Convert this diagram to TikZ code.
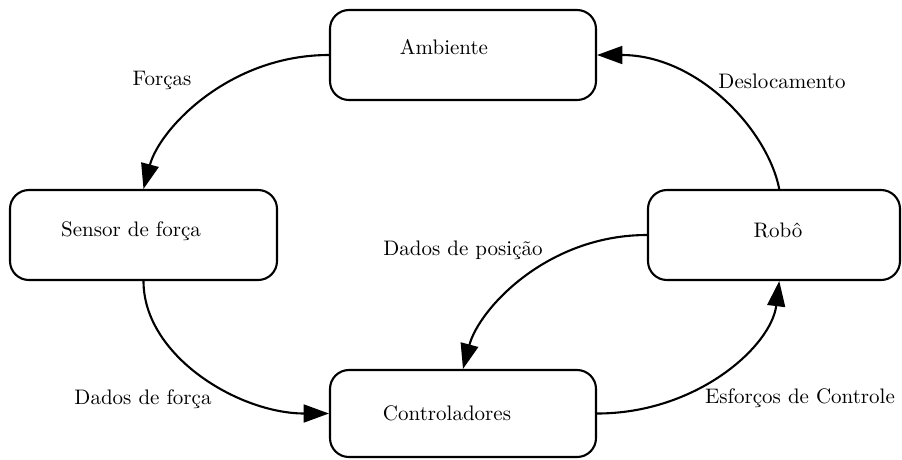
\documentclass[tikz,border=0pt]{standalone}
\usetikzlibrary{arrows.meta,fit}
\begin{document}
\begin{tikzpicture}[x=0.476pt,y=-0.476pt]
\tikzset{
  box/.style={draw, line width=1pt, rounded corners=9pt, inner sep=0pt},
  txt/.style={inner sep=0pt},
  flow/.style={line width=1pt, -{Triangle[length=12pt,width=8.5pt]}},
}
\useasboundingbox (0,0) rectangle (902,459);
% boxes
\node[box, fit={(330,10) (596,100)}] (amb) {};
\node[box, fit={(10,190) (277,280)}] (sen) {};
\node[box, fit={(648,190) (900,280)}] (rob) {};
\node[box, fit={(330,370) (596,457)}] (con) {};
% box texts
\node[txt] (ambt) at (444,47) {Ambiente};
\node[txt] (sent) at (131,231) {Sensor de força};
\node[txt] (robt) at (778,230) {Robô};
\node[txt] (cont) at (447,413) {Controladores};
% edge labels
\node[txt] (lf) at (162,80) {Forças};
\node[txt] (ldf) at (143,399) {Dados de força};
\node[txt] (ldp) at (463,250) {Dados de posição};
\node[txt] (ld) at (782,81) {Deslocamento};
\node[txt] (le) at (800,398) {Esforços de Controle};
% connectors
\draw[flow] (amb.west) .. controls +(-100,0) and +(16,-60) .. (sen.north);
\draw[flow] (sen.south) .. controls +(0,75) and +(-90,0) .. (con.west);
\draw[flow] (rob.west) .. controls +(-100,0) and +(16,-60) .. (con.north);
\draw[flow] ([xshift=2.5pt]rob.north) .. controls +(-12,-60) and +(100,0) .. (amb.east);
\draw[flow] (con.east) .. controls +(100,0) and +(-8,65) .. ([xshift=2.5pt]rob.south);
\end{tikzpicture}
\end{document}
